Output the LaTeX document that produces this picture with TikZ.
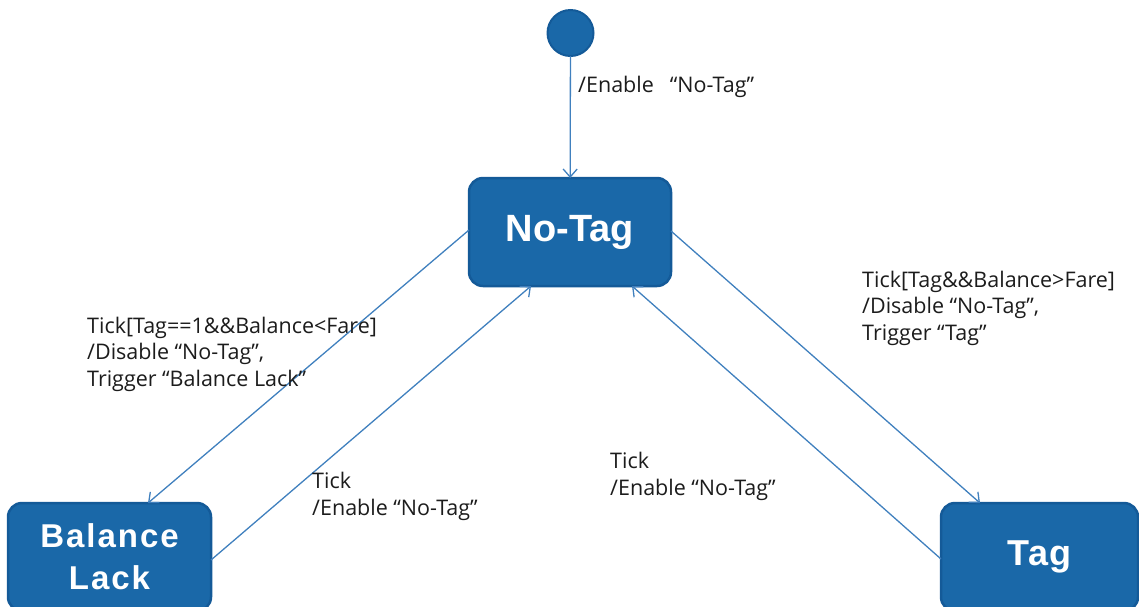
\documentclass[tikz,border=0pt]{standalone}
\usepackage{fontspec}
\setmainfont{Open Sans}
\newfontfamily\boxfont{Liberation Sans}[BoldFont={* Bold}]
\usetikzlibrary{arrows.meta}
\definecolor{boxfill}{RGB}{26,104,168}
\definecolor{boxline}{RGB}{20,90,152}
\definecolor{edgecol}{RGB}{64,128,190}
\definecolor{labcol}{RGB}{28,28,28}
\tikzset{
  statebox/.style={draw=boxline, fill=boxfill, line width=2.5pt, rounded corners=14pt,
    text=white, font=\boxfont\bfseries, align=center, inner sep=0pt, outer sep=0pt},
  trans/.style={draw=edgecol, line width=1.3pt,
    -{Straight Barb[length=8pt,width=14pt,line width=1.3pt]}},
  lab/.style={text=labcol, font=\fontsize{21.5}{26.5}\selectfont, align=left,
    anchor=base west, inner sep=0pt}
}
\begin{document}
\begin{tikzpicture}[x=1pt,y=-1pt]
\useasboundingbox (0,0) rectangle (1139,606);
\node[circle, draw=boxline, fill=boxfill, line width=2pt, minimum size=46pt, inner sep=0pt, outer sep=0pt] (init) at (570.5,33) {};
\node[statebox, minimum width=202pt, minimum height=108pt, font=\boxfont\bfseries\fontsize{38}{40}\selectfont] (notag) at (570,232) {No-Tag};
\node[statebox, minimum width=203pt, minimum height=108pt, font=\boxfont\bfseries\fontsize{33}{42}\selectfont\addfontfeature{LetterSpace=6}] (bl) at (109.5,557) {Balance\\Lack};
\node[statebox, minimum width=197pt, minimum height=108pt, font=\boxfont\bfseries\fontsize{36}{40}\selectfont\addfontfeature{LetterSpace=3}] (tag) at (1039.5,557) {Tag};

\draw[trans] (init) -- (notag);
\draw[trans] ([yshift=2pt]notag.west) -- ([xshift=38.5pt]bl.north);
\draw[trans] ([yshift=-3pt]bl.east) -- ([xshift=-39pt]notag.south);
\draw[trans] ([yshift=-2pt]tag.west) -- ([xshift=62pt]notag.south);
\draw[trans] ([yshift=1pt]notag.east) -- ([xshift=-59.5pt]tag.north);

% labels anchored at the baseline of their last line
\node[lab] (l0) at (578,92) {/Enable\hspace{16pt}“No-Tag”};
\node[lab] (l1) at (87,386) {Tick[Tag==1\&\&Balance<Fare]\\/Disable “No-Tag”,\\Trigger “Balance Lack”};
\node[lab] (l2) at (862,340) {Tick[Tag\&\&Balance>Fare]\\/Disable “No-Tag”,\\Trigger “Tag”};
\node[lab] (l3) at (312,515) {Tick\\/Enable “No-Tag”};
\node[lab] (l4) at (610,495) {Tick\\/Enable “No-Tag”};
\end{tikzpicture}
\end{document}
